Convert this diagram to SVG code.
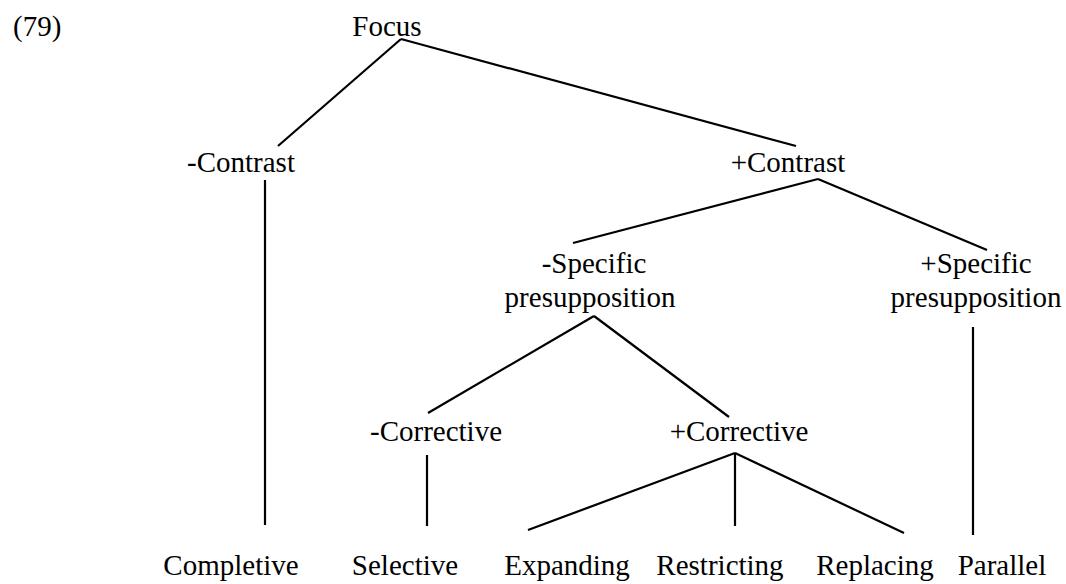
<svg xmlns="http://www.w3.org/2000/svg" width="1066" height="584" viewBox="0 0 1066 584">
<style>
.edge{stroke:#000;stroke-width:2.2;fill:none}
</style>
<rect width="1066" height="584" fill="#fff"/>
<text x="13" y="36" font-family="Liberation Serif" font-size="29" fill="#000">(79)</text>
<g id="connectors">
<line class="edge" x1="401" y1="39" x2="278" y2="146"/>
<line class="edge" x1="401" y1="39" x2="796" y2="146"/>
<line class="edge" x1="265" y1="180" x2="265" y2="525"/>
<line class="edge" x1="818" y1="179" x2="573" y2="243"/>
<line class="edge" x1="818" y1="179" x2="987" y2="250"/>
<line class="edge" x1="594" y1="316" x2="428" y2="413"/>
<line class="edge" x1="594" y1="316" x2="729" y2="417"/>
<line class="edge" x1="973" y1="327" x2="973" y2="535"/>
<line class="edge" x1="427" y1="455" x2="427" y2="526"/>
<line class="edge" x1="735" y1="453" x2="528" y2="530"/>
<line class="edge" x1="735" y1="453" x2="735" y2="526"/>
<line class="edge" x1="735" y1="453" x2="904" y2="533"/>
</g>
<g id="focus" font-family="Liberation Serif" font-size="29" text-anchor="middle"><text x="387" y="36" font-family="Liberation Serif">Focus</text></g>
<g id="minus-contrast" font-family="Liberation Serif" font-size="29" text-anchor="middle"><text x="241" y="172" font-family="Liberation Serif">-Contrast</text></g>
<g id="plus-contrast" font-family="Liberation Serif" font-size="29" text-anchor="middle"><text x="788" y="172" font-family="Liberation Serif">+Contrast</text></g>
<g id="minus-specific" font-family="Liberation Serif" font-size="29" text-anchor="middle"><text x="594" y="273" font-family="Liberation Serif">-Specific</text><text x="590" y="307" font-family="Liberation Serif">presupposition</text></g>
<g id="plus-specific" font-family="Liberation Serif" font-size="29" text-anchor="middle"><text x="976" y="273" font-family="Liberation Serif">+Specific</text><text x="976" y="307" font-family="Liberation Serif">presupposition</text></g>
<g id="minus-corrective" font-family="Liberation Serif" font-size="29" text-anchor="middle"><text x="436" y="441" font-family="Liberation Serif">-Corrective</text></g>
<g id="plus-corrective" font-family="Liberation Serif" font-size="29" text-anchor="middle"><text x="739" y="441" font-family="Liberation Serif">+Corrective</text></g>
<g id="completive" font-family="Liberation Serif" font-size="29" text-anchor="middle"><text x="231" y="575" font-family="Liberation Serif">Completive</text></g>
<g id="selective" font-family="Liberation Serif" font-size="29" text-anchor="middle"><text x="405" y="575" font-family="Liberation Serif">Selective</text></g>
<g id="expanding" font-family="Liberation Serif" font-size="29" text-anchor="middle"><text x="567" y="575" font-family="Liberation Serif">Expanding</text></g>
<g id="restricting" font-family="Liberation Serif" font-size="29" text-anchor="middle"><text x="720" y="575" font-family="Liberation Serif">Restricting</text></g>
<g id="replacing" font-family="Liberation Serif" font-size="29" text-anchor="middle"><text x="875" y="575" font-family="Liberation Serif">Replacing</text></g>
<g id="parallel" font-family="Liberation Serif" font-size="29" text-anchor="middle"><text x="1002" y="575" font-family="Liberation Serif">Parallel</text></g>
</svg>
